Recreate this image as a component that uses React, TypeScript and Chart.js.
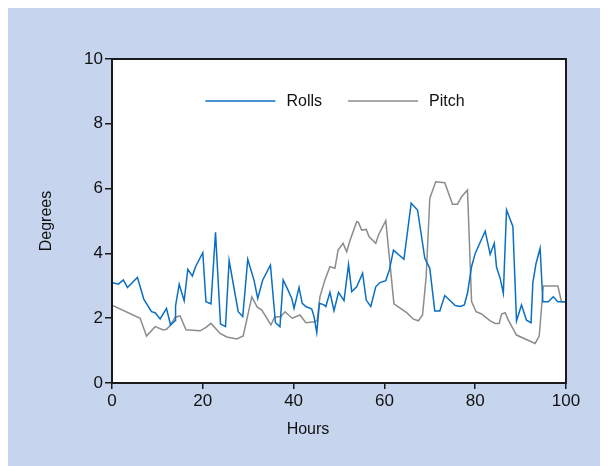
import React, { useEffect, useRef } from "react";
import { Chart, registerables } from "chart.js";

Chart.register(...registerables);

// Hourly roll and pitch readings (degrees)
const rollsHours = [0, 1.4, 2.5, 3.4, 5.6, 7.0, 8.7, 9.5, 10.6, 12.0, 12.9, 13.9, 14.0, 14.8, 15.9, 16.7, 17.7, 18.4, 20.0, 20.7, 21.8, 22.8, 23.9, 25.0, 25.8, 27.8, 28.8, 29.9, 31.3, 32.1, 33.2, 34.9, 36.0, 37.0, 37.7, 38.7, 39.6, 40.1, 41.2, 41.9, 42.7, 44.0, 44.5, 45.1, 45.7, 46.7, 47.1, 48.0, 48.9, 49.9, 51.1, 52.1, 52.8, 53.9, 55.2, 56.0, 57.0, 58.1, 59.0, 60.3, 61.1, 62.0, 64.3, 65.9, 67.3, 68.9, 70.0, 71.1, 72.2, 73.3, 75.6, 76.7, 77.6, 78.3, 79.2, 80.0, 82.2, 83.3, 84.2, 84.7, 85.5, 86.2, 86.9, 88.3, 89.1, 90.2, 91.3, 92.3, 92.7, 93.4, 94.3, 94.9, 96.1, 97.2, 98.2, 100];
const rollsDegrees = [3.1, 3.05, 3.18, 2.95, 3.26, 2.59, 2.2, 2.17, 1.98, 2.3, 1.79, 1.92, 2.38, 3.05, 2.54, 3.51, 3.3, 3.59, 4.02, 2.51, 2.44, 4.65, 1.82, 1.74, 3.78, 2.2, 2.05, 3.82, 3.16, 2.61, 3.18, 3.64, 1.86, 1.74, 3.18, 2.89, 2.61, 2.3, 2.95, 2.46, 2.36, 2.28, 2.05, 1.56, 2.46, 2.41, 2.36, 2.8, 2.23, 2.8, 2.54, 3.66, 2.82, 2.97, 3.39, 2.56, 2.36, 2.97, 3.1, 3.16, 3.49, 4.1, 3.82, 5.55, 5.34, 3.85, 3.54, 2.22, 2.22, 2.7, 2.39, 2.36, 2.41, 2.77, 3.59, 4.0, 4.69, 3.97, 4.31, 3.57, 3.23, 2.77, 5.34, 4.83, 1.92, 2.41, 1.94, 1.86, 3.1, 3.69, 4.16, 2.51, 2.51, 2.66, 2.51, 2.51];

const pitchHours = [0, 6.2, 7.6, 9.5, 11.3, 12.0, 12.9, 13.9, 15.0, 16.3, 19.4, 20.7, 21.8, 23.8, 25.3, 27.5, 28.9, 30.8, 32.0, 33.0, 35.0, 35.8, 37.2, 38.1, 39.7, 41.4, 42.7, 44.7, 45.2, 45.8, 46.9, 48.0, 49.1, 49.8, 50.9, 51.7, 52.4, 53.9, 54.3, 55.0, 56.0, 56.6, 58.1, 58.7, 60.3, 62.1, 64.9, 66.4, 67.5, 68.4, 69.2, 70.0, 71.3, 73.3, 75.0, 76.1, 77.0, 78.3, 79.2, 80.2, 81.4, 83.3, 84.4, 85.3, 85.8, 86.6, 87.3, 89.1, 93.2, 94.1, 95.0, 98.2, 99.0, 100];
const pitchDegrees = [2.4, 2.0, 1.45, 1.74, 1.64, 1.66, 1.79, 2.03, 2.07, 1.64, 1.61, 1.72, 1.84, 1.53, 1.42, 1.36, 1.45, 2.66, 2.34, 2.25, 1.79, 2.03, 2.05, 2.2, 2.0, 2.1, 1.86, 1.89, 1.94, 2.66, 3.18, 3.59, 3.54, 4.1, 4.31, 4.05, 4.39, 4.98, 4.95, 4.72, 4.74, 4.52, 4.31, 4.57, 5.01, 2.44, 2.17, 1.97, 1.92, 2.1, 3.28, 5.7, 6.21, 6.18, 5.52, 5.52, 5.75, 5.96, 2.51, 2.2, 2.13, 1.92, 1.84, 1.84, 2.13, 2.17, 1.94, 1.48, 1.22, 1.45, 2.99, 2.99, 2.51, 2.51];

const seriesLabels = ["Rolls", "Pitch"];
const xTitle = "Hours";
const yTitle = "Degrees";

const FONT = "'Liberation Sans', Arial, sans-serif";
const AXIS = "#1a1a1a";

const framePlugin = {
  id: "frame",
  beforeDatasetsDraw(chart: any) {
    const { ctx, chartArea: a } = chart;
    ctx.save();
    ctx.fillStyle = "#ffffff";
    ctx.fillRect(a.left, a.top, a.right - a.left, a.bottom - a.top);
    ctx.restore();
  },
  afterDraw(chart: any) {
    const { ctx, chartArea: a, width } = chart;
    ctx.save();
    // plot box
    ctx.strokeStyle = AXIS;
    ctx.lineWidth = 2;
    ctx.strokeRect(a.left, a.top, a.right - a.left, a.bottom - a.top);

    // axis titles
    ctx.fillStyle = "#111";
    ctx.font = `16px ${FONT}`;
    ctx.textAlign = "center";
    ctx.textBaseline = "middle";
    ctx.fillText(xTitle, width / 2, 422);
    ctx.save();
    ctx.translate(39, (a.top + a.bottom) / 2);
    ctx.rotate(-Math.PI / 2);
    ctx.fillText(yTitle, 0, 0);
    ctx.restore();

    // legend inside the plot
    const lineLen = 70;
    const gapText = 11;
    const gapItem = 26;
    const items = chart.data.datasets.map((ds: any) => ({
      label: ds.label,
      color: ds.borderColor,
      w: ctx.measureText(ds.label).width,
    }));
    const total = items.reduce((s: number, it: any) => s + lineLen + gapText + it.w, 0) + gapItem * (items.length - 1);
    let x = (a.left + a.right) / 2 - total / 2 - 4;
    const y = a.top + 42;
    ctx.textAlign = "left";
    items.forEach((it: any) => {
      ctx.strokeStyle = it.color;
      ctx.lineWidth = 1.5;
      ctx.beginPath();
      ctx.moveTo(x, y);
      ctx.lineTo(x + lineLen, y);
      ctx.stroke();
      ctx.fillStyle = "#111";
      ctx.fillText(it.label, x + lineLen + gapText, y + 1);
      x += lineLen + gapText + it.w + gapItem;
    });
    ctx.restore();
  },
};

export default function App() {
  const ref = useRef<HTMLCanvasElement | null>(null);

  useEffect(() => {
    if (!ref.current) return;
    const tickFont = { family: FONT, size: 17 };
    const chart = new Chart(ref.current, {
      type: "scatter",
      data: {
        datasets: [
          {
            label: seriesLabels[0],
            data: rollsHours.map((h, i) => ({ x: h, y: rollsDegrees[i] })),
            showLine: true,
            borderColor: "#0a6fc2",
            backgroundColor: "#0a6fc2",
            borderWidth: 1.5,
            pointRadius: 0,
            tension: 0,
          },
          {
            label: seriesLabels[1],
            data: pitchHours.map((h, i) => ({ x: h, y: pitchDegrees[i] })),
            showLine: true,
            borderColor: "#8c8c8c",
            backgroundColor: "#8c8c8c",
            borderWidth: 1.5,
            pointRadius: 0,
            tension: 0,
          },
        ],
      },
      options: {
        responsive: false,
        animation: false,
        events: [],
        layout: { padding: { top: 51, right: 42, left: 0, bottom: 0 } },
        plugins: { legend: { display: false }, tooltip: { enabled: false } },
        scales: {
          x: {
            type: "linear",
            min: 0,
            max: 100,
            ticks: { stepSize: 20, color: "#111", font: tickFont, padding: 2, maxRotation: 0 },
            grid: { drawOnChartArea: false, drawTicks: true, tickLength: 6, color: AXIS, lineWidth: 1.5 },
            border: { display: true, color: AXIS, width: 2 },
            afterFit: (s: any) => {
              s.height = 83;
            },
          },
          y: {
            type: "linear",
            min: 0,
            max: 10,
            ticks: { stepSize: 2, color: "#111", font: tickFont, padding: 2 },
            grid: { drawOnChartArea: false, drawTicks: true, tickLength: 7, color: AXIS, lineWidth: 1.5 },
            border: { display: true, color: AXIS, width: 2 },
            afterFit: (s: any) => {
              s.width = 104;
            },
          },
        },
      },
      plugins: [framePlugin],
    });
    return () => chart.destroy();
  }, []);

  return (
    <div style={{ width: 600, height: 458, background: "#c6d5ed", position: "relative" }}>
      <canvas ref={ref} width={600} height={458} style={{ display: "block" }} />
    </div>
  );
}
